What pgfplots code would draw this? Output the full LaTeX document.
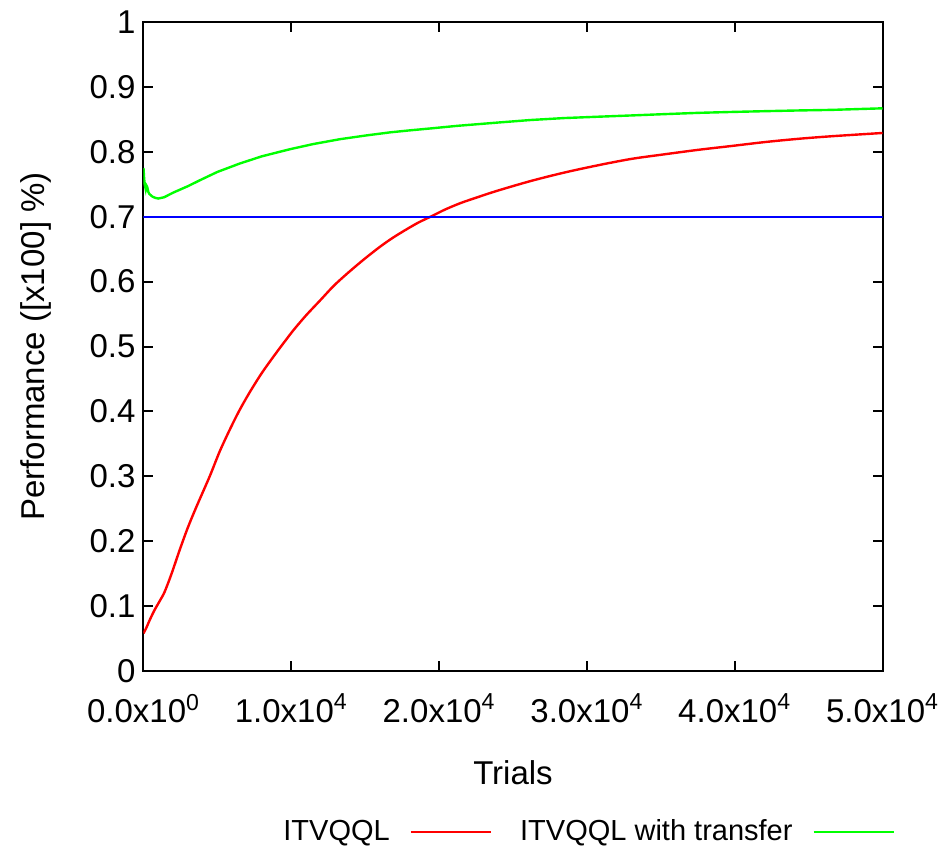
\documentclass[border=0pt]{standalone}
\usepackage{fontspec}
\setmainfont{Liberation Sans}
\usepackage{pgfplots}
\pgfplotsset{compat=1.18}
\begin{document}
\begin{tikzpicture}
\begin{axis}[
  at={(0pt,0pt)}, anchor=south west,
  scale only axis,
  width=369.5pt, height=324.5pt,
  xmin=0, xmax=50000, ymin=0, ymax=1,
  xtick={0,10000,20000,30000,40000,50000},
  xticklabels={0.0x10\textsuperscript{0},1.0x10\textsuperscript{4},2.0x10\textsuperscript{4},3.0x10\textsuperscript{4},4.0x10\textsuperscript{4},5.0x10\textsuperscript{4}},
  scaled x ticks=false,
  ytick={0,0.1,...,1.01},
  /pgf/number format/assume math mode=true,
  yticklabel style={/pgf/number format/fixed, font=\fontsize{16.5}{19}\selectfont, xshift=-0.5pt},
  xticklabel style={font=\fontsize{16.5}{19}\selectfont, yshift=-8pt},
  tick align=inside,
  major tick length=5pt,
  tick style={black, line width=1pt},
  axis line style={black, line width=1pt},
  xlabel={Trials},
  ylabel={Performance ([x100] \%)},
  xlabel style={at={(axis description cs:0.5,-0.157)}, anchor=center, font=\fontsize{16.5}{19}\selectfont},
  ylabel style={at={(axis description cs:-0.146,0.5)}, anchor=center, font=\fontsize{16.5}{19}\selectfont},
  legend columns=2,
  legend plot pos=right,
  legend image code/.code={\draw[#1, line width=1.2pt] (0pt,0pt) -- (40pt,0pt);},
  legend style={at={(axis description cs:0.1888,-0.248)}, anchor=west, draw=none, fill=none, inner sep=0pt,
    font=\fontsize{14.5}{17}\selectfont,
    column sep=10pt,
    /tikz/every even column/.append style={column sep=14pt},
    nodes={inner sep=0pt}},
]
\addplot[red, line width=1.2pt, smooth, tension=0.5] coordinates {
(0,0.058) (180,0.066) (450,0.080) (750,0.094) (1100,0.108) (1430,0.122) (1900,0.150) (2440,0.186)
(3000,0.221) (3580,0.253) (4480,0.300) (5150,0.338) (5840,0.372) (6500,0.402) (7200,0.430)
(8000,0.459) (8780,0.484) (9500,0.506) (10140,0.525) (11000,0.548) (11950,0.571) (12850,0.593) (13760,0.612)
(14900,0.634) (16020,0.654) (16900,0.668) (17830,0.681) (18600,0.691) (19420,0.700) (20400,0.711) (21450,0.721) (22600,0.730) (23940,0.740)
(26200,0.755) (28470,0.768) (30700,0.779) (32990,0.789) (35200,0.796) (37520,0.803)
(39800,0.809) (42040,0.815) (44300,0.820) (46570,0.824) (50000,0.829)
};
\addlegendentry{ITVQQL}
\addplot[green, line width=1.2pt] coordinates {
(0,0.775) (40,0.760) (80,0.750) (150,0.742) (200,0.748) (250,0.746) (330,0.738) (400,0.735)
(600,0.731) (800,0.729) (1000,0.728) (1400,0.730) (2000,0.737) (3000,0.747) (3800,0.756)
(5000,0.769) (6520,0.782) (8000,0.793) (9910,0.804) (11500,0.812) (13310,0.8195) (15000,0.825)
(16700,0.830) (18000,0.833) (19420,0.836) (21230,0.840) (23940,0.845) (26200,0.849) (28470,0.852)
(30700,0.854) (32990,0.856) (35200,0.858) (37520,0.860) (39800,0.8614) (42040,0.8626) (44300,0.8637) (46570,0.8646) (50000,0.867)
};
\addlegendentry{ITVQQL with transfer}
\addplot[blue, line width=1.2pt, forget plot] coordinates {(0,0.7) (50000,0.7)};
\end{axis}
\pgfresetboundingbox
\path[use as bounding box] (-71.75pt,-88pt) rectangle (400.75pt,335.5pt);
\end{tikzpicture}
\end{document}
